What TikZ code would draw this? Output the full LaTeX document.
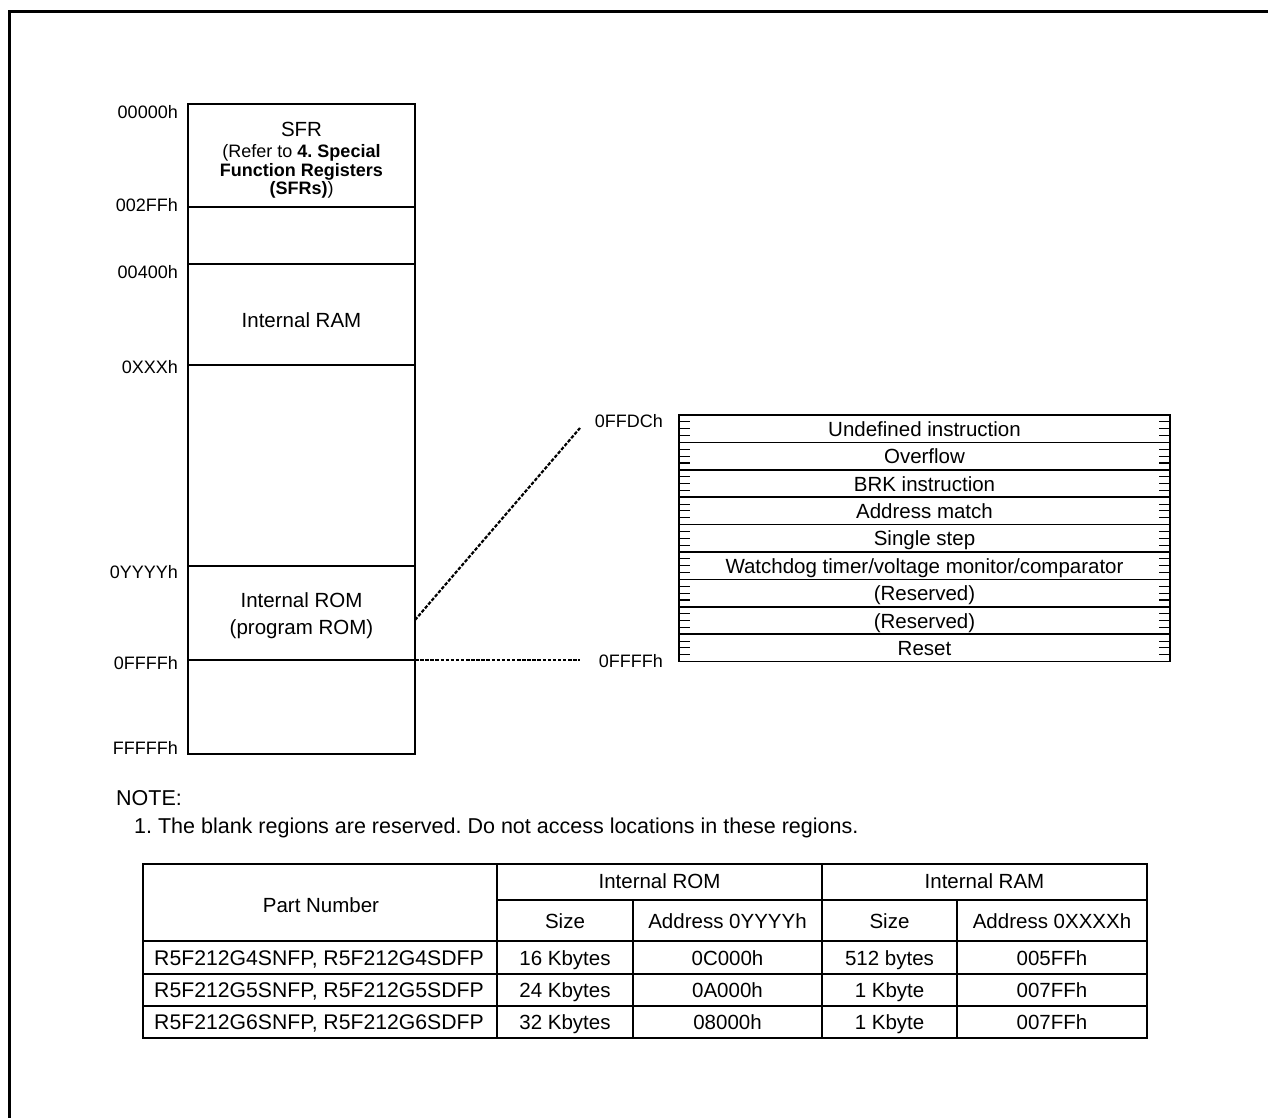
\documentclass[tikz,border=0pt]{standalone}
\usepackage{fontspec}
\setmainfont{Liberation Sans}
\frenchspacing
\newcommand\fa{\fontsize{20.5}{22}\selectfont}
\newcommand\fb{\fontsize{18}{18.5}\selectfont}
\newcommand\fc{\fontsize{21.5}{23}\selectfont}
\newcommand\fd{\fontsize{21.2}{23}\selectfont}
\begin{document}
\begin{tikzpicture}[x=1pt,y=-1pt,
  frameline/.style={line width=3pt},
  mm/.style={line width=1.4pt},
  lbl/.style={anchor=east, inner sep=0pt, font=\fb, text height=12.9pt, text depth=0pt},
  txt/.style={inner sep=0pt, font=\fa, text height=14.7pt, text depth=0pt},
  sml/.style={inner sep=0pt, font=\fb, text height=12.9pt, text depth=0pt},
  notetxt/.style={inner sep=0pt, font=\fc, text height=15.4pt, text depth=0pt, anchor=west},
  pntxt/.style={inner sep=0pt, font=\fd, text height=15.2pt, text depth=0pt},
  dl/.style={line width=2.2pt, dash pattern=on 3.5pt off 1.6pt},
  tickl/.style={line width=1.1pt},
  vsep/.style={line width=1.5pt},
  tbl/.style={line width=1.3pt}]
\useasboundingbox (0,0) rectangle (1268,1118);
% outer frame
\draw[frameline] (9.5,1118) -- (9.5,11.5) -- (1268,11.5);

% ---------------- memory map ----------------
\coordinate (mTL) at (188,104);
\coordinate (mBR) at (415,754);
\draw[mm] (mTL) rectangle (mBR);
\foreach \yy/\nm in {207/a, 264/b, 365/c, 566/d, 660/e}
  \draw[mm] (188,\yy) coordinate (L\nm) -- (415,\yy) coordinate (R\nm);

\node[lbl] (l0) at (178,112) {00000h};
\node[lbl] (l1) at (178,205) {002FFh};
\node[lbl] (l2) at (178,272) {00400h};
\node[lbl] (l3) at (178,367) {0XXXh};
\node[lbl] (l4) at (178,572) {0YYYYh};
\node[lbl] (l5) at (178,663) {0FFFFh};
\node[lbl] (l6) at (178,748) {FFFFFh};

\node[txt] (sfr) at (301.5,129) {SFR};
\node[sml] (sfr1) at (301.5,151) {(Refer to \textbf{4. Special}};
\node[sml] (sfr2) at (301.5,170) {\textbf{Function Registers}};
\node[sml] (sfr3) at (301.5,188) {\textbf{(SFRs)})};
\node[txt] (ram) at (301.5,320) {Internal RAM};
\node[txt] (rom1) at (301.5,600) {Internal ROM};
\node[txt] (rom2) at (301.5,627) {(program ROM)};

% ---------------- vector table ----------------
\node[lbl] (vdc) at (663,421) {0FFDCh};
\node[lbl] (vff) at (663,661) {0FFFFh};
\coordinate (romR) at (415,620);
\coordinate (dTop) at (580,428);
\coordinate (dBot) at (580,660);
\draw[dl] (romR) -- (dTop);
\draw[dl] (Re) -- (dBot);

\draw[mm] (679,415) rectangle (1170,661.6);
\foreach \i in {1,...,8}
  \draw[vsep] (679,{415+27.4*\i}) -- (1170,{415+27.4*\i});
\foreach \r in {0,...,8}
  \foreach \q in {1,2,3} {
    \draw[tickl] (679,{415+27.4*\r+6.85*\q}) -- (690,{415+27.4*\r+6.85*\q});
    \draw[tickl] (1159,{415+27.4*\r+6.85*\q}) -- (1170,{415+27.4*\r+6.85*\q});
  }
\foreach \i/\t in {0/Undefined instruction, 1/Overflow, 2/BRK instruction,
  3/Address match, 4/Single step, 5/Watchdog timer\slash voltage monitor\slash comparator,
  6/(Reserved), 7/(Reserved), 8/Reset}
  \node[txt] (v\i) at (924.5,{415+27.4*\i+14}) {\t};

% ---------------- note ----------------
\node[notetxt] (note) at (116,798) {NOTE:};
\node[notetxt] (note1) at (134,826) {1. The blank regions are reserved. Do not access locations in these regions.};

% ---------------- table ----------------
\draw[tbl] (143,864) rectangle (1147,1038);
\draw[tbl] (497,900) -- (1147,900);
\draw[tbl] (143,941) -- (1147,941);
\draw[tbl] (143,974) -- (1147,974);
\draw[tbl] (143,1006) -- (1147,1006);
\draw[tbl] (497,864) -- (497,1038);
\draw[tbl] (822,864) -- (822,1038);
\draw[tbl] (633,900) -- (633,1038);
\draw[tbl] (957,900) -- (957,1038);

\node[txt] (hpn) at (321,905) {Part Number};
\node[txt] (hrom) at (659.5,881) {Internal ROM};
\node[txt] (hram) at (984.5,881) {Internal RAM};
\node[txt] (hs1) at (565,921) {Size};
\node[txt] (ha1) at (727.5,921) {Address 0YYYYh};
\node[txt] (hs2) at (889.5,921) {Size};
\node[txt] (ha2) at (1052,921) {Address 0XXXXh};

\foreach \yy/\a/\b/\c/\d/\e/\n in {
  958/{R5F212G4SNFP, R5F212G4SDFP}/16 Kbytes/0C000h/512 bytes/005FFh/1,
  990/{R5F212G5SNFP, R5F212G5SDFP}/24 Kbytes/0A000h/1 Kbyte/007FFh/2,
  1022/{R5F212G6SNFP, R5F212G6SDFP}/32 Kbytes/08000h/1 Kbyte/007FFh/3} {
  \node[pntxt] (p\n) at (319,\yy) {\a};
  \node[txt] (rs\n) at (565,\yy) {\b};
  \node[txt] (ra\n) at (727.5,\yy) {\c};
  \node[txt] (ms\n) at (889.5,\yy) {\d};
  \node[txt] (ma\n) at (1052,\yy) {\e};
}
\end{tikzpicture}
\end{document}
